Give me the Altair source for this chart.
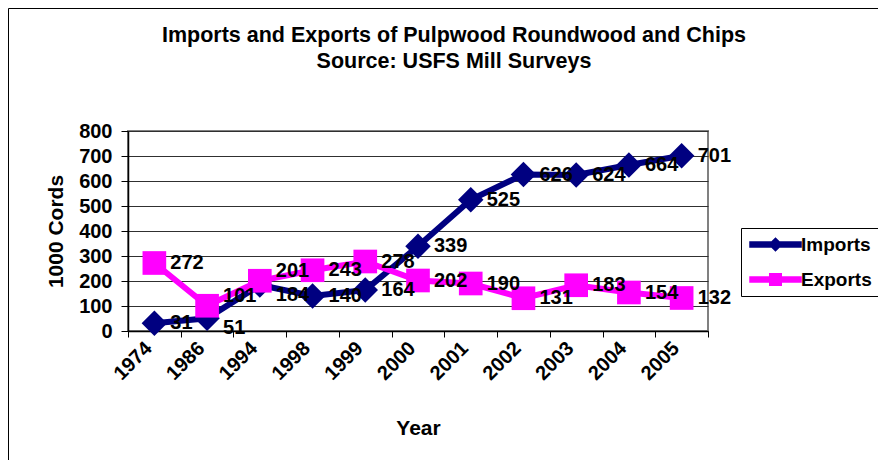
import altair as alt
import pandas as pd

years = ["1974", "1986", "1994", "1998", "1999", "2000", "2001", "2002", "2003", "2004", "2005"]
imports = [31, 51, 184, 140, 164, 339, 525, 626, 624, 664, 701]
exports = [272, 101, 201, 243, 278, 202, 190, 131, 183, 154, 132]
series = ["Imports", "Exports"]
colors = ["#000080", "#FF00FF"]

rows = []
for i, y in enumerate(years):
    a, b = imports[i], exports[i]
    close = abs(a - b) < 60
    pos_a = ("up" if a >= b else "down") if close else "mid"
    pos_b = ("up" if b > a else "down") if close else "mid"
    rows.append({"Year": y, "Series": "Imports", "Value": a, "pos": pos_a})
    rows.append({"Year": y, "Series": "Exports", "Value": b, "pos": pos_b})
df = pd.DataFrame(rows)

FONT = "Liberation Sans"

x_enc = alt.X("Year:N", sort=years, title="Year",
              axis=alt.Axis(labelAngle=-45, labelAlign="right", labelBaseline="middle",
                            tickBand="extent", tickSize=6, labelPadding=8, labelOffset=-6,
                            titlePadding=34))
y_enc = alt.Y("Value:Q", title="1000 Cords",
              scale=alt.Scale(domain=[0, 800], nice=False),
              axis=alt.Axis(values=list(range(0, 801, 100)), tickSize=7, labelPadding=9,
                            titlePadding=12, grid=True))

base = alt.Chart(df)

def series_layers(name, color, shape, size):
    sub = base.transform_filter(alt.datum.Series == name)
    ln = sub.mark_line(strokeWidth=6, color=color).encode(x=x_enc, y=y_enc)
    pt = sub.mark_point(filled=True, opacity=1, color=color, shape=shape, size=size).encode(x=x_enc, y=y_enc)
    return [ln, pt]

imp_leg = "M-2.5,-0.3H2.5V0.3H-2.5Z M0,-0.7L0.7,0L0,0.7L-0.7,0Z"
exp_leg = "M-2.5,-0.3H-0.62V-0.62H0.62V-0.3H2.5V0.3H0.62V0.62H-0.62V0.3H-2.5Z"

# legend only: no rows drawn, entries come from the explicit scale domain
legend_layer = base.transform_filter("datum.Value < 0").mark_point(filled=True, opacity=1).encode(
    x=x_enc, y=y_enc,
    color=alt.Color("Series:N", scale=alt.Scale(domain=series, range=colors), title=None,
                    legend=alt.Legend(orient="none", legendX=613, legendY=97,
                                      padding=6, strokeColor="black", fillColor="white",
                                      symbolSize=441, symbolOffset=18, labelOffset=15,
                                      rowPadding=14, labelFont=FONT, labelFontSize=19,
                                      labelFontWeight="bold", labelColor="black",
                                      symbolStrokeWidth=0, symbolOpacity=1)),
    shape=alt.Shape("Series:N", scale=alt.Scale(domain=series, range=[imp_leg, exp_leg]), title=None),
)

def labels(pos, dy):
    return base.transform_filter(alt.datum.pos == pos).mark_text(
        align="left", baseline="middle", dx=16, dy=dy, font=FONT, fontSize=20,
        fontWeight="bold", color="black").encode(x=x_enc, y=y_enc, text="Value:Q")

frame = alt.Chart(pd.DataFrame({"a": [0]})).mark_rect(
    fill=None, stroke="black", strokeWidth=1).encode(
    x=alt.value(-119.5), x2=alt.value(900), y=alt.value(-122.5), y2=alt.value(500))

layers = [frame, legend_layer]
layers += series_layers("Imports", colors[0], "diamond", 650)
layers += series_layers("Exports", colors[1], "square", 560)
layers += [labels("mid", 0), labels("up", -10), labels("down", 10)]

chart = alt.layer(*layers).properties(
    width=580, height=200,
    background="white",
    title=alt.TitleParams(["Imports and Exports of Pulpwood Roundwood and Chips", "Source: USFS Mill Surveys"],
                          font=FONT, fontSize=21.5, fontWeight="bold", color="black",
                          anchor="middle", frame="group", dx=36, offset=0, dy=86,
                          baseline="bottom", lineHeight=26),
    autosize=alt.AutoSizeParams(type="none"),
    padding={"left": 120, "top": 123, "right": 170, "bottom": 129},
).configure_view(stroke="#808080", strokeWidth=2, fill="white").configure_axis(
    labelFont=FONT, labelFontSize=20, labelFontWeight="bold", labelColor="black",
    titleFont=FONT, titleFontSize=21, titleFontWeight="bold", titleColor="black",
    domainColor="black", domainWidth=1.5, tickColor="black", tickWidth=1,
    gridColor="#303030", gridWidth=1
)

chart.save("out.html", embed_options={"renderer": "svg", "actions": False})
